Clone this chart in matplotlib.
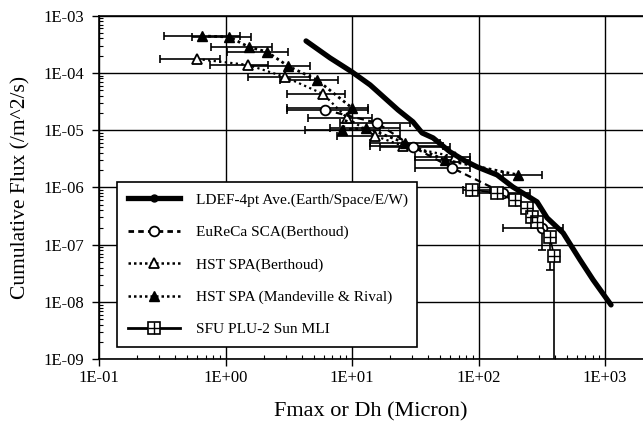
import matplotlib
matplotlib.use("Agg")
import matplotlib.pyplot as plt
import numpy as np
from matplotlib.lines import Line2D
from matplotlib.ticker import LogLocator, FuncFormatter, NullFormatter

plt.rcParams['font.family'] = ['Liberation Serif', 'DejaVu Serif']

# LDEF-4pt average (Earth/Space/E/W)
ldef_x = [4.33, 6.70, 10.0, 13.9, 23.1, 30.3, 35.8, 43.7, 59.6, 78.2, 97.3, 140, 187, 290, 348, 466, 634, 804, 1115]
ldef_y = [3.62e-4, 1.83e-4, 1.04e-4, 6.18e-5, 2.26e-5, 1.40e-5, 8.97e-6, 7.34e-6, 4.18e-6, 2.91e-6,
          2.29e-6, 1.66e-6, 1.02e-6, 5.61e-7, 2.95e-7, 1.61e-7, 5.45e-8, 2.44e-8, 8.9e-9]

# EuReCa SCA (Berthoud)
eur_x = [6.12, 15.8, 30.3, 61.8, 156, 318]
eur_lo = [3.06, 8.04, 16.6, 31.5, 85.7, 156]
eur_hi = [13.4, 28.7, 59.6, 85.7, 255, 466]
eur_y = [2.26e-5, 1.34e-5, 5.11e-6, 2.20e-6, 8.05e-7, 1.97e-7]
eur_ylo = [np.nan, np.nan, np.nan, np.nan, np.nan, 8.15e-8]

# HST SPA (Berthoud)
hb_x = [0.596, 1.51, 2.95, 5.90, 9.13, 15.2, 25.3, 65.2]
hb_lo = [0.303, 0.753, 1.51, 3.06, 4.49, 7.61, 13.9, 31.5]
hb_hi = [0.906, 2.17, 4.66, 8.81, 14.4, 23.9, 52.4, 85.7]
hb_y = [1.75e-4, 1.38e-4, 8.51e-5, 4.30e-5, 1.64e-5, 7.96e-6, 5.32e-6, 3.42e-6]

# HST SPA (Mandeville & Rival)
hm_x = [0.652, 1.07, 1.53, 2.13, 3.12, 5.29, 10.0, 8.34, 12.9, 26.2, 54.3, 205]
hm_lo = [0.327, 0.543, 0.767, 1.03, 1.51, 2.70, 3.06, 4.25, 6.70, 13.9, 31.5, 156]
hm_hi = [1.30, 1.59, 2.33, 3.12, 4.66, 7.75, 13.4, 16.6, 23.9, 49.6, 85.7, 318]
hm_y = [4.42e-4, 4.25e-4, 2.84e-4, 2.33e-4, 1.32e-4, 7.55e-5, 2.45e-5, 1.01e-5, 1.10e-5,
        6.0e-6, 3.03e-6, 1.66e-6]

# SFU PLU-2 Sun MLI
sfu_x = [88.3, 139, 194, 240, 264, 290, 367, 395]
sfu_lo = [75.4, np.nan, np.nan, np.nan, np.nan, np.nan, np.nan, np.nan]
sfu_hi = [123, np.nan, np.nan, np.nan, np.nan, np.nan, np.nan, np.nan]
sfu_y = [9.08e-7, 8.05e-7, 6.08e-7, 4.35e-7, 3.10e-7, 2.54e-7, 1.39e-7, 6.40e-8]
sfu_ylo = [np.nan, np.nan, np.nan, np.nan, np.nan, np.nan, 3.65e-8, 1e-12]

labels = ["LDEF-4pt Ave.(Earth/Space/E/W)", "EuReCa SCA(Berthoud)", "HST SPA(Berthoud)",
          "HST SPA (Mandeville & Rival)", "SFU PLU-2 Sun MLI"]

fig = plt.figure(figsize=(6.43, 4.26), dpi=100)
ax = fig.add_axes([0.154, 0.1566, 0.846, 0.8066])
ax.set_xscale('log')
ax.set_yscale('log')
ax.set_xlim(0.1, 1995)
ax.set_ylim(1e-9, 1e-3)


def xbars(x, y, lo, hi):
    x = np.array(x, float); y = np.array(y, float)
    lo = np.array(lo, float); hi = np.array(hi, float)
    m = ~np.isnan(lo)
    ax.errorbar(x[m], y[m], xerr=[x[m] - lo[m], hi[m] - x[m]], fmt='none', ecolor='k',
                elinewidth=1.2, capsize=3, capthick=1.2, zorder=3)


def ybars(x, y, ylo):
    x = np.array(x, float); y = np.array(y, float); ylo = np.array(ylo, float)
    m = ~np.isnan(ylo)
    ax.errorbar(x[m], y[m], yerr=[y[m] - ylo[m], np.zeros(m.sum())], fmt='none', ecolor='k',
                elinewidth=1.2, capsize=3, capthick=1.2, zorder=3)


xbars(hb_x, hb_y, hb_lo, hb_hi)
xbars(hm_x, hm_y, hm_lo, hm_hi)
xbars(eur_x, eur_y, eur_lo, eur_hi)
xbars(sfu_x, sfu_y, sfu_lo, sfu_hi)
ybars(eur_x, eur_y, eur_ylo)
ybars(sfu_x, sfu_y, sfu_ylo)

ax.plot(hb_x, hb_y, color='k', ls=(0, (1, 1.5)), lw=1.6, marker='^', ms=7,
        mfc='white', mec='k', mew=1.3, zorder=4)
ax.plot(hm_x, hm_y, color='k', ls=(0, (1, 1.2)), lw=2.0, marker='^', ms=7,
        mfc='k', mec='k', zorder=4)
ax.plot(eur_x, eur_y, color='k', ls=(0, (3, 2)), lw=1.6, marker='o', ms=7,
        mfc='white', mec='k', mew=1.3, zorder=4)
ax.plot(sfu_x, sfu_y, color='k', ls='-', lw=1.2, marker='s', ms=8,
        mfc='white', mec='k', mew=1.2, zorder=4)
ax.plot(sfu_x, sfu_y, ls='none', marker='+', ms=8, mec='k', mew=1.0, zorder=5)
ax.plot(ldef_x, ldef_y, color='k', lw=3.8, solid_capstyle='round', solid_joinstyle='round', zorder=6)

# axes styling
ax.grid(True, which='major', color='k', lw=1.0)
ax.set_axisbelow(True)
ax.spines['right'].set_visible(False)
for s in ['left', 'bottom', 'top']:
    ax.spines[s].set_linewidth(1.2)

ax.xaxis.set_major_locator(LogLocator(base=10, numticks=12))
ax.yaxis.set_major_locator(LogLocator(base=10, numticks=12))
ax.xaxis.set_minor_locator(LogLocator(base=10, subs=np.arange(2, 10), numticks=12))
ax.yaxis.set_minor_locator(LogLocator(base=10, subs=np.arange(2, 10), numticks=12))
fmt = FuncFormatter(lambda v, p: "1E%+03d" % int(round(np.log10(v))))
ax.xaxis.set_major_formatter(fmt)
ax.yaxis.set_major_formatter(fmt)
ax.xaxis.set_minor_formatter(NullFormatter())
ax.yaxis.set_minor_formatter(NullFormatter())
ax.tick_params(which='major', direction='out', length=5, width=1.0, labelsize=12)
ax.tick_params(axis='x', which='major', pad=2.5)
ax.tick_params(axis='y', which='major', pad=6)
ax.tick_params(which='minor', direction='in', length=3, width=0.8)

ax.set_xlabel("Fmax or Dh (Micron)", fontsize=16, labelpad=12)
ax.set_ylabel("Cumulative Flux (/m^2/s)", fontsize=15.5, labelpad=9)

# legend
h_ldef = Line2D([], [], color='k', lw=3.8, marker='o', ms=5)
h_eur = Line2D([], [], color='k', ls=(0, (2, 1.5)), lw=2.0, marker='o', ms=7, mfc='white', mec='k', mew=1.3)
h_hb = Line2D([], [], color='k', ls=(0, (1, 1.2)), lw=1.8, marker='^', ms=7, mfc='white', mec='k', mew=1.3)
h_hm = Line2D([], [], color='k', ls=(0, (1, 1.2)), lw=1.8, marker='^', ms=7, mfc='k', mec='k')
h_sfu1 = Line2D([], [], color='k', lw=2.0, marker='s', ms=8, mfc='white', mec='k', mew=1.2)
h_sfu2 = Line2D([], [], ls='none', marker='+', ms=8, mec='k', mew=1.0)
leg = ax.legend([h_ldef, h_eur, h_hb, h_hm, (h_sfu1, h_sfu2)], labels,
                loc='upper left', bbox_to_anchor=(0.033, 0.516, 0.552, 0.0), mode='expand',
                fontsize=11.1, handlelength=3.4, handletextpad=1.0, labelspacing=1.2,
                borderpad=0.7, fancybox=False, framealpha=1, edgecolor='k',
                borderaxespad=0, numpoints=1)
leg.get_frame().set_linewidth(1.2)
leg.set_zorder(10)

fig.savefig("out.png", dpi=100)
